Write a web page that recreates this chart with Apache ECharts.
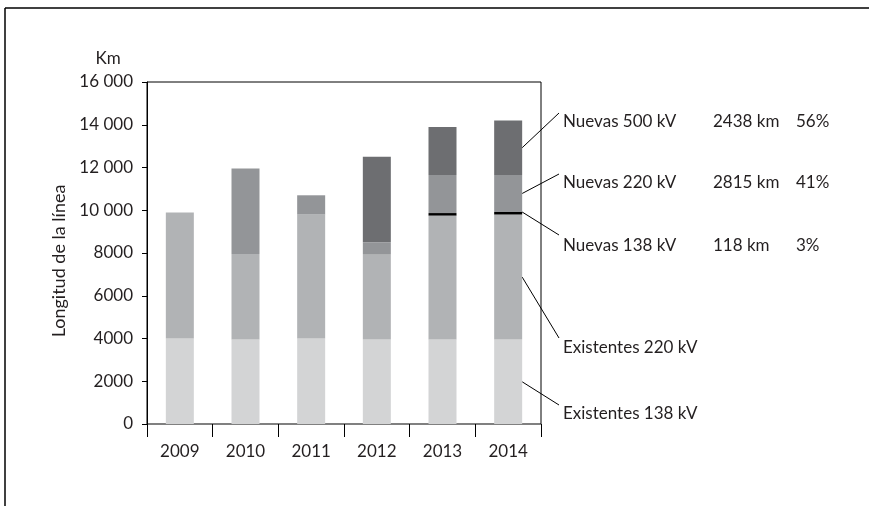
<!DOCTYPE html>
<html>
<head>
<meta charset="utf-8">
<script src="https://cdn.jsdelivr.net/npm/echarts@6/dist/echarts.min.js"></script>
<style>
  html, body { margin: 0; padding: 0; background: #fff; }
  #chart { width: 869px; height: 506px; }
</style>
</head>
<body>
<div id="chart"></div>
<script>
// años
const years = ['2009', '2010', '2011', '2012', '2013', '2014']
// km por tipo de línea (apilado)
const existentes138 = [4000, 3950, 4000, 3950, 3950, 3950]
const existentes220 = [5900, 4000, 5800, 4000, 5800, 5850]
const nuevas138 = [0, 0, 0, 0, 118, 118]
const nuevas220 = [0, 4000, 900, 550, 1782, 1732]
const nuevas500 = [0, 0, 0, 4000, 2250, 2550]
// textos de la derecha
const seriesNames = ['Existentes 138 kV', 'Existentes 220 kV', 'Nuevas 138 kV', 'Nuevas 220 kV', 'Nuevas 500 kV']
const seriesKm = ['', '', '118 km', '2815 km', '2438 km']
const seriesPct = ['', '', '3%', '41%', '56%']

const FONT = 'Lato'
const FS = 17
const TXT = '#231f20'
const colors = ['#d3d4d5', '#b1b3b5', '#000000', '#939598', '#6d6e71']
const allData = [existentes138, existentes220, nuevas138, nuevas220, nuevas500]

const dom = document.getElementById('chart')
const myChart = echarts.init(dom, null, { renderer: 'canvas' })

const option = {
  animation: false,
  textStyle: { fontFamily: FONT },
  grid: {
    left: 147,
    top: 82,
    right: 328,
    bottom: 82,
    show: true,
    borderColor: '#000',
    borderWidth: 1
  },
  xAxis: {
    type: 'category',
    data: years,
    axisLine: { lineStyle: { color: '#808080', width: 1 } },
    axisTick: { show: true, length: 13, lineStyle: { color: '#000' } },
    axisLabel: { color: TXT, fontSize: FS, fontFamily: FONT, margin: 19 },
    splitLine: { show: false }
  },
  yAxis: {
    type: 'value',
    min: 0,
    max: 16000,
    interval: 2000,
    axisLine: { show: true, lineStyle: { color: '#000', width: 1 } },
    axisTick: { show: true, length: 5, lineStyle: { color: '#000' } },
    axisLabel: {
      color: TXT,
      fontSize: FS,
      fontFamily: FONT,
      margin: 14,
      formatter: v => v >= 10000 ? String(v).replace(/(\d+)(\d{3})$/, '$1 $2') : String(v)
    },
    splitLine: { show: false }
  },
  series: seriesNames.map((name, i) => ({
    name: name,
    type: 'bar',
    stack: 'total',
    barWidth: 28,
    data: allData[i],
    itemStyle: { color: colors[i] }
  }))
}
myChart.setOption(option)

// líneas guía y textos a la derecha
const labelY = [414, 348, 246, 183, 122]
const endY = [405, 338, 235, 174, 113]
const last = years.length - 1
const graphic = [
  // marco exterior
  { type: 'line', shape: { x1: 5, y1: 8, x2: 869, y2: 8 }, style: { stroke: '#000', lineWidth: 1.5 } },
  { type: 'line', shape: { x1: 5, y1: 8, x2: 5, y2: 506 }, style: { stroke: '#000', lineWidth: 1.5 } },
  {
    type: 'text', x: 108, y: 59,
    style: { text: 'Km', font: FS + 'px ' + FONT, fill: TXT, align: 'center', verticalAlign: 'middle' }
  },
  {
    type: 'text', x: 59, y: 261, rotation: Math.PI / 2,
    style: { text: 'Longitud de la línea', font: '18px ' + FONT, fill: TXT, align: 'center', verticalAlign: 'middle' }
  }
]
let base = 0
seriesNames.forEach((name, i) => {
  const v = allData[i][last]
  const mid = i === 2 ? base + v : base + v / 2
  base += v
  const p = myChart.convertToPixel({ seriesIndex: i }, [last, mid])
  const x1 = p[0] + 14
  graphic.push({
    type: 'line',
    shape: { x1: x1, y1: p[1], x2: 559, y2: endY[i] },
    style: { stroke: '#000', lineWidth: 1 }
  })
  graphic.push({
    type: 'text', x: 563, y: labelY[i],
    style: { text: name, font: FS + 'px ' + FONT, fill: TXT, verticalAlign: 'middle' }
  })
  if (seriesKm[i]) {
    graphic.push({
      type: 'text', x: 713, y: labelY[i],
      style: { text: seriesKm[i], font: FS + 'px ' + FONT, fill: TXT, verticalAlign: 'middle' }
    })
    graphic.push({
      type: 'text', x: 796, y: labelY[i],
      style: { text: seriesPct[i], font: FS + 'px ' + FONT, fill: TXT, verticalAlign: 'middle' }
    })
  }
})
myChart.setOption({ graphic: graphic })
</script>
</body>
</html>
